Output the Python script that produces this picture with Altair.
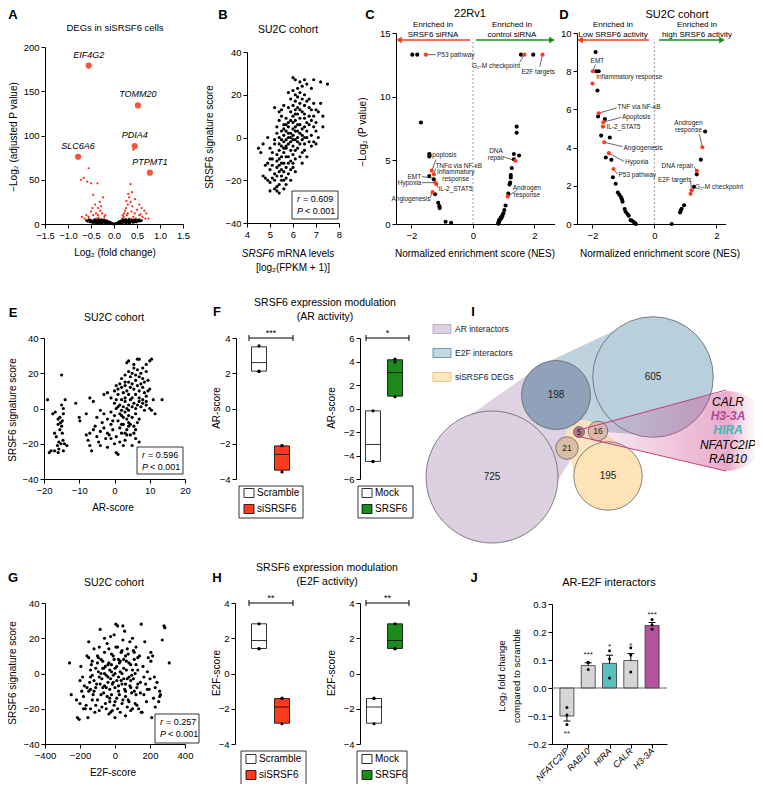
import math
import altair as alt
import pandas as pd

FONT = "Liberation Sans"
W, H, M = 747, 776, 8

# ---------------- DATA ----------------
# A: volcano
A_black = [(-0.48,3),(-0.45,4),(-0.42,5),(-0.4,2),(-0.38,4),(-0.36,3),(-0.34,5),(-0.32,2),(-0.3,4),(-0.28,3),
           (-0.27,5),(-0.25,2),(-0.24,4),(-0.22,3),(-0.2,2),(-0.19,4),(-0.18,1),(-0.16,3),(-0.15,2),(-0.14,1),
           (-0.12,2),(-0.11,1),(-0.1,1.5),(-0.08,1),(-0.07,0.5),(-0.06,1),(-0.05,0.5),(-0.04,0.3),(-0.03,0.2),
           (-0.02,0.1),(-0.01,0.05),(0.0,0.0),(0.01,0.05),(0.02,0.1),(0.03,0.2),(0.04,0.4),(0.05,0.6),(0.06,0.8),
           (0.07,0.5),(0.08,1),(0.09,1.2),(0.1,1.5),(0.11,1),(0.12,2),(0.13,1.5),(0.14,2.5),(0.15,2),(0.16,1),
           (0.17,3),(0.18,2),(0.19,3.5),(0.2,2.5),(0.21,4),(0.22,3),(0.23,2),(0.24,4.5),(0.25,3),(0.26,5),
           (0.27,3.5),(0.28,4),(0.3,2.5),(0.32,5),(0.34,3),(0.36,4),(0.38,5),(0.4,3),(0.42,4),(0.45,5),(0.48,3),
           (0.5,4),(0.52,3),(0.55,5),(-0.52,4),(-0.55,5),(-0.58,3),(-0.5,2),(-0.44,1.5),(-0.35,1),(-0.26,1),
           (-0.17,0.5),(0.17,0.6),(0.26,1.2),(0.35,1.5),(0.44,2),(-0.6,4),(0.6,4),(-0.13,2.5),(-0.09,1.8),
           (0.29,1.8),(0.33,2.2),(-0.29,1.6),(-0.23,3.5),(0.12,0.8),(-0.12,0.8),
           (-0.47,2.5),(-0.43,3.2),(-0.39,1.2),(-0.37,2.4),(-0.33,3.6),(-0.31,1.3),(-0.29,4.4),(-0.21,1.4),
           (-0.19,2.7),(-0.15,3.4),(-0.11,2.6),(-0.08,2.2),(-0.21,4.6),(-0.41,3.6),(-0.46,1.8),(-0.53,2.6),
           (0.09,2.1),(0.11,2.8),(0.15,3.3),(0.19,1.3),(0.22,4.2),(0.25,1.7),(0.28,2.6),(0.31,3.7),(0.33,1.2),
           (0.37,2.7),(0.39,4.3),(0.41,1.6),(0.43,3.4),(0.47,4.4),(0.49,2.1),(0.53,4.2),(0.57,3.2),(0.2,5.2)]
A_red = [(-0.55,63),(-0.66,52),(-0.72,50),(-0.58,48),(-0.5,46),(-0.36,46),(-0.45,33),(0.42,84),(0.31,34),
         (0.33,30),(0.36,45),(0.46,28),(0.55,22),(0.6,18),(0.66,15),(0.7,12),(0.5,16),(0.4,20),(0.36,25),
         (0.3,22),(0.26,18),(0.22,12),(0.28,10),(0.21,8),(0.18,6),(-0.21,8),(-0.26,12),(-0.3,15),(-0.35,18),
         (-0.41,22),(-0.5,14),(-0.6,10),(-0.45,10),(-0.55,8),(-0.31,25),(-0.28,20),(-0.33,7),(-0.7,8),
         (0.62,8),(0.55,10),(0.45,12),(0.38,14),(0.42,8),(0.48,6),(0.33,6),(0.3,12),(-0.22,5),(-0.38,6),
         (-0.42,4),(-0.5,5),(0.25,5),(0.35,4),(0.52,4),(0.16,4),(-0.16,4),(-0.27,4),(-0.24,30),(-0.39,12),
         (0.39,36),(0.27,26),(0.24,15),(0.58,11),(0.68,6),(-0.64,6),(-0.47,18),(-0.19,10),(0.19,10),
         (0.29,4),(-0.35,10),(0.75,6)]
A_genes = ["EIF4G2", "TOMM20", "PDIA4", "SLC6A6", "PTPMT1"]
A_gene_fc = [-0.55, 0.52, 0.45, -0.78, 0.78]
A_gene_p = [179, 134, 88, 76, 58]

# B: SRSF6 mRNA vs signature
B_points = [(5.0,-25),(5.2,-24),(5.3,-25),(5.4,-26),(5.3,-23),(4.9,-20),(5.0,-21),(5.1,-19),(5.2,-20),(5.4,-22),
            (5.5,-18),(5.6,-24),(5.6,-20),(5.2,-17),(5.0,-15),(5.1,-13),(5.3,-14),(5.4,-16),(5.5,-15),(5.3,-11),
            (5.4,-10),(5.6,-12),(5.7,-14),(5.8,-17),(5.7,-19),(4.7,-18),(4.8,-19),(4.8,-13),(4.9,-12),(5.0,-10),
            (4.5,-5),(4.6,-7),(4.7,-3),(4.9,0),(5.0,-5),(5.1,-7),(5.2,-3),(5.3,-8),(5.4,-6),(5.5,-4),(5.5,-9),
            (5.6,-7),(5.7,-5),(5.8,-9),(5.9,-11),(6.0,-8),(6.1,-10),(6.2,-5),(6.3,-9),(6.0,-14),(6.1,-16),
            (5.9,-20),(6.4,-7),(6.6,-9),(6.5,-6),(5.3,2),(5.4,0),(5.5,3),(5.6,1),(5.7,-1),(5.7,3),(5.8,0),
            (5.8,5),(5.9,2),(5.9,-2),(6.0,1),(6.0,4),(6.1,-1),(6.1,3),(6.2,0),(6.2,6),(6.3,2),(6.3,-3),(6.4,4),
            (6.5,0),(6.6,3),(6.7,-2),(6.8,1),(5.6,6),(5.4,8),(5.5,10),(5.7,9),(5.8,7),(5.9,12),(6.0,10),(6.1,8),
            (6.2,11),(6.3,9),(6.4,12),(6.5,9),(6.6,7),(6.7,10),(6.8,8),(6.9,5),(7.0,3),(7.1,0),(7.3,5),(7.0,-3),
            (6.9,-2),(5.2,14),(5.5,13),(5.6,15),(5.8,14),(6.0,15),(6.1,13),(6.3,16),(6.4,18),(6.2,19),(6.5,15),
            (6.6,17),(6.7,14),(6.9,16),(7.0,13),(7.2,16),(5.8,21),(6.0,22),(6.1,20),(6.2,23),(6.3,21),(6.5,20),
            (6.4,24),(6.8,23),(6.0,28),(6.1,27),(6.3,26),(6.6,25),(6.9,27),(7.2,26),(7.5,25),(6.5,27),(5.6,-2),
            (5.7,-4),(5.8,-3),(5.9,-6),(6.0,-4),(6.1,-6),(5.5,-1),(5.6,4),(5.7,6),(5.8,-12),(6.0,-12),(5.9,-15),
            (5.6,-16),(5.5,-12),(5.7,-9),(5.9,0),(6.1,5),(6.3,6),(6.2,-2),(6.4,1),(6.5,-3),(6.6,0),(6.2,14),
            (6.1,17),(5.9,18),(6.0,-1),(5.8,2),(5.6,-5),(5.4,-3),(5.2,-1),(5.1,-10),(5.3,-18),(5.5,-20),
            (5.7,-22),(5.4,-13),(6.4,-12),(6.5,11),(6.7,18),(6.9,10),(7.1,12),(7.3,10),(7.0,7),(6.8,13),(6.3,13),
            (6.1,11),(5.9,8),(6.0,7),(6.2,3),(6.4,-1),(6.8,-4),(6.5,5),(6.7,6),(5.3,5),(5.4,12)]

# C: 22Rv1 GSEA
C_black = [(-1.97,13.3),(-1.81,13.3),(-1.69,7.97),(-1.42,5.5),(-1.42,5.3),(-1.42,3.77),(-1.27,3.5),
           (-1.23,2.34),(-1.13,1.66),(-1.09,1.4),(-1.08,1.25),(-0.89,0.18),(-0.71,0.1),
           (1.56,13.3),(1.96,13.3),(1.42,7.65),(1.42,7.17),(1.33,5.5),(1.5,5.38),(1.33,5.08),(1.26,4.4),
           (1.23,3.85),(1.23,3.66),(1.21,3.25),(1.19,3.1),(1.15,2.4),(1.06,1.45),(0.99,0.84),(0.95,0.6),
           (0.92,0.45),(0.88,0.35),(0.86,0.25),(0.84,0.15),(0.82,0.08),(0.83,0.02),(0.85,0.3),(0.9,0.5),
           (1.02,1.1),(0.96,0.7)]
C_red = [(-1.53,13.3),(-1.34,4.19),(-1.27,3.9),(-1.23,3.25),(-1.19,3.14),(-1.31,2.5),
         (1.67,13.3),(2.26,13.3),(1.38,4.97),(1.13,2.15)]

# D: SU2C GSEA
D_black = [(-1.9,9.0),(-1.88,8.0),(-1.8,8.0),(-1.84,6.99),(-1.82,5.63),(-1.6,5.5),(-1.72,4.63),(-1.44,4.53),
           (-1.57,3.48),(-1.39,3.36),(-1.34,2.45),(-1.25,2.11),(-1.18,1.65),(-1.13,1.53),(-1.08,1.41),
           (-1.05,1.3),(-1.03,1.17),(-0.96,0.78),(-0.93,0.64),(-0.87,0.52),(-0.83,0.43),(-0.77,0.2),
           (-0.72,0.17),(-0.67,0.1),(-0.63,0.05),(-0.6,0.0),
           (1.64,4.84),(1.5,3.37),(1.37,2.6),(1.28,1.95),(0.96,0.98),(0.88,0.8),(0.85,0.7),(0.83,0.6),(0.56,0.0)]
D_red = [(-1.99,8.0),(-2.0,7.35),(-1.8,5.8),(-1.65,5.33),(-1.66,5.1),(-1.62,4.28),(-1.47,3.71),(-1.32,2.88),
         (1.55,4.02),(1.37,2.78),(1.2,1.77),(1.17,1.58)]

# E / G scatter
E_points = [(-19,5),(-18,-24),(-17.5,-3),(-17,-14),(-16.5,-16),(-16,-25),(-15.5,-5),(-15,-10),(-15,19),
            (-14.8,-7),(-14.5,-3),(-14.6,-18),(-15.2,-20),(-15.8,-19),(-16.2,-21),(-14.2,-20),(-14,5),(-14.5,0),
            (-15,2),(-16,-9),(-16.8,-2),(-15.5,-12),(-14.8,-14),(-15.3,-8),(-16,-6),(-14.5,-24),(-17,-24),
            (-18.5,-25),(-13.5,-21),(-15.8,-23),(-11,3),(-10,-5),(-9.8,-7),(-8,-15),(-7.5,-18),(-7,-14),(-7,-21),
            (-6.5,-24),(-6,-12),(-5.5,-10),(-5,-16),(-4.5,-19),(-4,-13),(-3.5,-8),(-3,-11),(-2.5,-17),(-2,-22),
            (-1.5,-15),(-1,-9),(-0.5,-12),(0,-20),(0.5,-25),(1,-26),(1.5,-19),(2,-14),(2.5,-21),(3,-18),
            (3.5,-12),(4,-8),(4.5,-15),(5,-21),(6,-17),(7,-19),(-8,-3),(-7,6),(-6,4),(-5,-5),(-4,-1),(-3,-3),
            (-2,-6),(-1,-2),(0,-4),(0.5,0),(1,-7),(1.5,-3),(2,-9),(2.5,-5),(3,-2),(3.5,-6),(4,-4),(4.5,-9),
            (5,-5),(5.5,-10),(6,-3),(6.5,-8),(7,-6),(-3,8),(-2,9),(-1,6),(0,3),(0.5,5),(1,8),(1.5,2),(2,5),
            (2.5,1),(3,4),(3.5,0),(4,2),(4.5,5),(5,1),(5.5,3),(6,0),(6.5,2),(7,4),(7.5,1),(8,3),(8.5,-1),(9,2),
            (10,0),(10.5,-1),(0,10),(0.5,13),(1,11),(1.5,14),(2,12),(2.5,9),(3,13),(3.5,10),(4,15),(4.5,12),
            (5,14),(5.5,11),(6,16),(6.5,13),(7,10),(7.5,14),(8,12),(8.5,9),(9,7),(9.5,10),(10,11),(11,5),
            (11.5,-3),(13.5,5),(2,17),(3,19),(4,21),(4.5,18),(5,20),(5.5,23),(6,19),(6.5,22),(7,18),(7.5,20),
            (8,17),(8.5,15),(9,21),(3.5,26),(4,27),(5.5,25),(6.5,28),(7,28),(8,23),(9,25),(10,27),(10.5,28),
            (9.5,16),(3,15),(-0.5,-7),(1.5,-11),(2.5,-9),(3.5,-15),(5.5,-14),(4,-1),(2,-1),(1,1),(3,6),(4,8),
            (5,6),(6,8),(7,6),(8,5),(9,4),(2,-4),(4,-10),(6,-12),(3,-14),(-1,-17),(-4,-21),(-2,-14),(0.5,-16)]
G_points = [(-260,6),(-250,-12),(-220,-15),(-215,-25),(-205,-26),(-200,-4),(-195,4),(-190,-10),(-185,-2),
            (-180,-13),(-175,-7),(-170,-20),(-165,-18),(-160,10),(-155,-25),(-150,18),(-145,-5),(-140,-9),
            (-135,5),(-130,-1),(-125,-12),(-120,14),(-115,-22),(-110,3),(-105,-6),(-100,-15),(-95,9),(-90,-21),
            (-85,25),(-80,0),(-75,-3),(-70,7),(-65,-11),(-60,12),(-55,4),(-50,-8),(-45,17),(-40,-2),(-35,6),
            (-30,-14),(-25,21),(-20,1),(-15,-6),(-10,10),(-5,-18),(0,3),(5,28),(10,-4),(15,15),(20,-10),(25,6),
            (30,-22),(35,12),(40,0),(45,-15),(50,8),(55,24),(60,-6),(65,2),(70,-19),(75,11),(80,-2),(85,18),
            (90,5),(95,-11),(100,20),(105,-3),(110,8),(115,-17),(120,15),(125,-8),(130,2),(135,-20),(140,10),
            (145,-5),(150,28),(155,-22),(160,4),(165,-12),(170,18),(175,-6),(180,-16),(185,1),(190,9),(195,-9),
            (200,-3),(205,7),(210,-25),(215,10),(220,-14),(225,-2),(230,-19),(240,-5),(250,-16),(255,-10),
            (260,-12),(270,19),(280,27),(285,26),(310,6),(-150,-10),(-140,2),(-130,-15),(-120,-4),(-110,-8),
            (-100,6),(-90,-2),(-80,-12),(-70,3),(-60,-7),(-50,-1),(-40,5),(-30,-9),(-20,11),(-10,-5),(0,0),
            (10,4),(20,-2),(30,7),(40,-6),(50,3),(60,10),(70,-3),(80,6),(90,-8),(100,2),(110,-10),(120,5),
            (130,-6),(-100,10),(-80,8),(-60,0),(-40,-5),(-20,-12),(0,-8),(20,8),(40,13),(60,-10),(80,-16),
            (100,-20),(120,-12),(-120,-10),(-90,15),(-70,-8),(-50,-20),(-30,2),(-10,-1),(10,-14),(30,1),(50,-3),
            (70,14),(90,-4),(110,12),(130,9),(-60,20),(-20,5),(0,-16),(20,-7),(40,-17),(60,-13),(-140,-2),
            (-110,-18),(-180,-20),(-160,-8),(-30,-16),(-5,8),(15,-20),(35,-4),(55,-9),(75,-15),(95,-1),(115,0),
            (-85,-6),(-65,3),(-45,-13),(-25,-3),(-15,-21),(5,15),(25,-12),(45,19),(65,7),(85,-7),(105,13),
            (125,-18),(145,-11),(165,-2),(185,-9),(205,12),(230,-8),(255,-13),(-95,1),(-75,-19),(-55,-17),
            (-35,14),(-5,22),(15,27),(45,27),(-35,-23),(-25,-22),(-140,-20),(0,-25),(60,-24),(150,-22),(-150,9),
            (-130,7),(90,-21),(-200,-17)]

# F / H: box plots (points, min, median, max)
F1_groups = ["Scramble", "siSRSF6"]; F1_pts = [[3.55, 2.1, 2.12], [-2.1, -2.12, -3.6]]
F1_lo = [2.12, -3.5]; F1_mid = [2.6, -2.6]; F1_hi = [3.5, -2.12]
F2_groups = ["Mock", "SRSF6"]; F2_pts = [[-0.2, -4.5, -4.52], [4.2, 3.95, 1.0]]
F2_lo = [-4.5, 1.05]; F2_mid = [-3.05, 3.05]; F2_hi = [-0.2, 4.15]
H1_groups = ["Scramble", "siSRSF6"]; H1_pts = [[2.82, 1.4, 1.42], [-1.4, -1.42, -2.85]]
H1_lo = [1.42, -2.82]; H1_mid = [1.87, -1.9]; H1_hi = [2.82, -1.42]
H2_groups = ["Mock", "SRSF6"]; H2_pts = [[-1.4, -1.42, -2.85], [2.82, 1.4, 1.42]]
H2_lo = [-2.82, 1.42]; H2_mid = [-1.9, 1.87]; H2_hi = [-1.42, 2.82]

# I: Venn counts
I_sets = ["AR only", "AR & E2F", "E2F only", "DEG only", "AR & DEG", "all three", "E2F & DEG"]
I_counts = [725, 198, 605, 195, 21, 5, 16]
I_genes = ["CALR", "H3-3A", "HIRA", "NFATC2IP", "RAB10"]

# J: bar chart
J_genes = ["NFATC2IP", "RAB10", "HIRA", "CALR", "H3-3A"]
J_mean = [-0.100, 0.080, 0.088, 0.098, 0.223]
J_err = [-0.118, 0.090, 0.117, 0.123, 0.234]
J_pts = [[-0.07, -0.096, -0.13], [0.092, 0.09, 0.066], [0.133, 0.104, 0.036], [0.144, 0.118, 0.057], [0.245, 0.225, 0.21]]
J_stars = ["**", "***", "*", "*", "***"]

# ---------------- helpers ----------------
RED = "#ff3b1f"
GREEN = "#1b8c1b"


def px(v):
    return v - M


def py(v):
    return v - M


def xsc(domain, left, right):
    return alt.Scale(domain=domain, range=[px(left), px(right)], nice=False, zero=False)


def ysc(domain, bottom, top):
    return alt.Scale(domain=domain, range=[py(bottom), py(top)], nice=False, zero=False)


def xax(at_y, values, **kw):
    return alt.Axis(orient="bottom", offset=py(at_y) - H, values=values, title=None, **kw)


def yax(at_x, values, **kw):
    return alt.Axis(orient="left", offset=-px(at_x), values=values, title=None, **kw)


ONE = pd.DataFrame({"k": [0]})


def txt(text, x, y, size=9, weight="normal", style="normal", align="center", angle=0, color="black",
        baseline="middle", lh=None):
    kw = dict(text=text, font=FONT, fontSize=size, fontWeight=weight, fontStyle=style, align=align,
              baseline=baseline, angle=angle, color=color, lineBreak="\n")
    if lh:
        kw["lineHeight"] = lh
    return alt.Chart(ONE).mark_text(**kw).encode(x=alt.value(px(x)), y=alt.value(py(y)))


def rect(x1, y1, x2, y2, fill="white", stroke="black", sw=0.8):
    return alt.Chart(ONE).mark_rect(fill=fill, stroke=stroke, strokeWidth=sw).encode(
        x=alt.value(px(x1)), x2=alt.value(px(x2)), y=alt.value(py(y1)), y2=alt.value(py(y2)))


def seg(x1, y1, x2, y2, color="black", sw=1.0):
    return alt.Chart(ONE).mark_rule(color=color, strokeWidth=sw).encode(
        x=alt.value(px(x1)), x2=alt.value(px(x2)), y=alt.value(py(y1)), y2=alt.value(py(y2)))


def arrowhead(x, y, shape, color):
    return alt.Chart(ONE).mark_point(shape=shape, filled=True, size=45, color=color, opacity=1).encode(
        x=alt.value(px(x)), y=alt.value(py(y)))


def stat(x1, y1, x2, y2, rv):
    return [rect(x1, y1, x2, y2),
            txt("r", x1 + 5, y1 + 8, size=9, style="italic", align="left"),
            txt("= " + rv, x1 + 11, y1 + 8, size=9, align="left"),
            txt("P", x1 + 5, y1 + 20, size=9, style="italic", align="left"),
            txt("< 0.001", x1 + 13, y1 + 20, size=9, align="left")]


def scatter(points, xdom, xl, xr, ydom, yb, yt, xticks, yticks):
    df = pd.DataFrame(points, columns=["x", "y"])
    return [alt.Chart(df).mark_circle(size=10, color="black", opacity=1).encode(
        x=alt.X("x:Q", scale=xsc(xdom, xl, xr), axis=xax(yb, xticks)),
        y=alt.Y("y:Q", scale=ysc(ydom, yb, yt), axis=yax(xl, yticks)))]


def box_panel(groups, pts, lo, mid, hi, fills, ax_x, cx, ydom, yticks, yb, yt):
    def xs_():
        return alt.Scale(domain=groups, type="point", range=[px(cx[0]), px(cx[1])], padding=0)
    ys_ = ysc(ydom, yb, yt)
    dfb = pd.DataFrame({"g": groups, "lo": lo, "mid": mid, "hi": hi, "f": fills})
    dfp = pd.DataFrame([(g, v) for g, vals in zip(groups, pts) for v in vals], columns=["g", "v"])
    bars = alt.Chart(dfb).mark_bar(size=15, stroke="black", strokeWidth=0.8).encode(
        x=alt.X("g:N", scale=xs_(), axis=None),
        y=alt.Y("lo:Q", scale=ys_, axis=yax(ax_x, yticks)),
        y2="hi:Q", fill=alt.Fill("f:N", scale=None))
    med = alt.Chart(dfb).mark_tick(size=15, thickness=0.8, color="black", opacity=1).encode(
        x=alt.X("g:N", scale=xs_(), axis=None), y=alt.Y("mid:Q", scale=ys_, axis=None))
    dots = alt.Chart(dfp).mark_circle(size=10, color="black", opacity=1).encode(
        x=alt.X("g:N", scale=xs_(), axis=None), y=alt.Y("v:Q", scale=ys_, axis=None))
    return [bars, med, dots]


def bracket(x1, x2, y, star, ystar):
    return [seg(x1, y, x2, y), seg(x1, y - 3, x1, y + 3), seg(x2, y - 3, x2, y + 3),
            txt(star, (x1 + x2) / 2, ystar, size=9)]


def legend(x1, y1, x2, y2, names, fills, sx, tx, ys):
    out = [rect(x1, y1, x2, y2)]
    for n, f, yy in zip(names, fills, ys):
        out.append(rect(sx, yy - 4.5, sx + 10, yy + 4.5, fill=f, stroke="black", sw=0.8))
        out.append(txt(n, tx, yy, size=10, align="left"))
    return out


def enrich(black, red, labels, lines, xdom, xl, xr, ydom, yb, yt, xticks, yticks, ytop_line):
    xs_ = xsc(xdom, xl, xr)
    ys_ = ysc(ydom, yb, yt)
    dfb = pd.DataFrame(black, columns=["x", "y"])
    dfr = pd.DataFrame(red, columns=["x", "y"])
    dfl = pd.DataFrame(labels, columns=["t", "x", "y", "al"])
    dfs = pd.DataFrame(lines, columns=["x", "y", "x2", "y2"])
    L = [alt.Chart(dfb).mark_circle(size=17, color="black", opacity=1).encode(
        x=alt.X("x:Q", scale=xs_, axis=xax(yb, xticks)), y=alt.Y("y:Q", scale=ys_, axis=yax(xl, yticks)))]
    L.append(alt.Chart(ONE).mark_rule(color="#888888", strokeDash=[2, 2], strokeWidth=0.8).encode(
        x=alt.XDatum(0, scale=xs_, axis=None), y=alt.YDatum(ydom[0], scale=ys_, axis=None),
        y2=alt.Y2Datum(ytop_line)))
    L.append(alt.Chart(dfs).mark_rule(color="black", strokeWidth=0.6).encode(
        x=alt.X("x:Q", scale=xs_, axis=None), y=alt.Y("y:Q", scale=ys_, axis=None), x2="x2:Q", y2="y2:Q"))
    L.append(alt.Chart(dfr).mark_circle(size=17, color=RED, opacity=1).encode(
        x=alt.X("x:Q", scale=xs_, axis=None), y=alt.Y("y:Q", scale=ys_, axis=None)))
    for al in ["left", "center", "right"]:
        L.append(alt.Chart(dfl).transform_filter(alt.datum.al == al).mark_text(
            font=FONT, fontSize=6.5, align=al, baseline="middle", color="#222222", lineBreak="\n",
            lineHeight=7).encode(
            x=alt.X("x:Q", scale=xs_, axis=None), y=alt.Y("y:Q", scale=ys_, axis=None), text="t:N"))
    return L


layers = []

# ---------------- Panel A ----------------
xA = xsc([-1.5, 1.5], 45, 183)
yA = ysc([0, 200], 224, 47)
dA_b = pd.DataFrame(A_black, columns=["fc", "p"])
dA_r = pd.DataFrame(A_red, columns=["fc", "p"])
dA_t = pd.DataFrame({"g": A_genes, "fc": A_gene_fc, "p": A_gene_p})
layers += [
    alt.Chart(dA_r).mark_circle(size=5, color="#ff2a10", opacity=1).encode(
        x=alt.X("fc:Q", scale=xA, axis=xax(224, [-1.5, -1, -0.5, 0, 0.5, 1, 1.5], format=".1f")),
        y=alt.Y("p:Q", scale=yA, axis=yax(45, [0, 50, 100, 150, 200]))),
    alt.Chart(dA_b).mark_circle(size=6, color="black", opacity=1).encode(
        x=alt.X("fc:Q", scale=xA, axis=None), y=alt.Y("p:Q", scale=yA, axis=None)),
    alt.Chart(dA_t).mark_circle(size=38, color="#f5553c", opacity=1).encode(
        x=alt.X("fc:Q", scale=xA, axis=None), y=alt.Y("p:Q", scale=yA, axis=None)),
    alt.Chart(dA_t).mark_text(dy=-11, font=FONT, fontSize=9, fontStyle="italic").encode(
        x=alt.X("fc:Q", scale=xA, axis=None), y=alt.Y("p:Q", scale=yA, axis=None), text="g:N"),
    txt("A", 13, 15, size=13, weight="bold"),
    txt("DEGs in siSRSF6 cells", 115, 28, size=9.5),
    txt("Log₂ (fold change)", 115, 253, size=10),
    txt("−Log₂ (adjusted P value)", 14, 137, size=10, angle=270),
]

# ---------------- Panel B ----------------
layers += scatter(B_points, [4, 8], 247, 339, [-40, 40], 223, 52, [4, 5, 6, 7, 8], [-40, -20, 0, 20, 40])
layers += [txt("B", 223, 15, size=13, weight="bold"),
           txt("SU2C cohort", 288, 30, size=10.5),
           txt("SRSF6 signature score", 210, 137, size=10, angle=270),
           txt("SRSF6", 274, 254, size=10, style="italic", align="right"),
           txt("mRNA levels", 277, 254, size=10, align="left"),
           txt("[log₂(FPKM + 1)]", 293, 268, size=10)]
layers += stat(292, 191, 338, 219, "0.609")

# ---------------- Panel C ----------------
C_labels = [("P53 pathway", -1.17, 13.3, "left"), ("G₂-M checkpoint", 0.75, 12.4, "center"),
            ("E2F targets", 2.12, 11.95, "center"), ("DNA\nrepair", 0.75, 5.7, "center"),
            ("Androgen\nresponse", 1.75, 2.8, "center"), ("Apoptosis", -1.0, 5.4, "center"),
            ("TNFα via NF-κB", -1.22, 4.55, "left"), ("Inflammatory\nresponse", -0.56, 4.05, "center"),
            ("IL-2_STAT5", -1.12, 2.72, "left"), ("EMT", -1.68, 3.72, "right"), ("Hypoxia", -1.68, 3.25, "right"),
            ("Angiogenesis", -1.38, 1.94, "right")]
C_lines = [(-1.53, 13.3, -1.2, 13.3), (1.67, 13.3, 1.52, 12.7), (2.26, 13.3, 2.17, 12.35), (1.38, 4.97, 1.02, 5.25),
           (1.13, 2.15, 1.42, 2.65), (-1.34, 4.19, -1.2, 5.05), (-1.27, 3.9, -1.22, 4.35), (-1.66, 3.72, -1.3, 3.6),
           (-1.66, 3.25, -1.25, 3.25), (-1.19, 3.14, -1.14, 2.85), (-1.31, 2.5, -1.4, 2.05)]
layers += enrich(C_black, C_red, C_labels, C_lines, [-2.5, 2.65], 396, 554.5, [0, 15], 224, 33, [-2, 0, 2],
                 [0, 5, 10, 15], 14.5)
layers += [txt("C", 370, 15, size=13, weight="bold"),
           txt("22Rv1", 470, 14, size=11),
           txt("Enriched in\nSRSF6 siRNA", 433, 25, size=8, lh=10),
           txt("Enriched in\ncontrol siRNA", 512, 25, size=8, lh=10),
           seg(470, 40, 400, 40, color=RED, sw=1.5), arrowhead(399, 40, "triangle-left", RED),
           seg(476, 40, 551, 40, color=GREEN, sw=1.5), arrowhead(552, 40, "triangle-right", GREEN),
           txt("Normalized enrichment score (NES)", 475, 254, size=10),
           txt("−Log₂ (P value)", 363, 132, size=10, angle=270)]

# ---------------- Panel D ----------------
D_labels = [("EMT", -1.84, 8.55, "center"), ("Androgen\nresponse", 1.1, 5.31, "center"),
            ("Inflammatory response", -1.88, 7.68, "left"), ("TNF via NF-κB", -1.19, 6.1, "left"),
            ("Apoptosis", -1.05, 5.6, "left"), ("IL-2_STAT5", -1.55, 5.1, "left"),
            ("Angiogenesis", -1.0, 4.0, "left"), ("Hypoxia", -0.95, 3.25, "left"), ("P53 pathway", -1.16, 2.54, "left"),
            ("G₂-M checkpoint", 1.31, 1.96, "left"), ("DNA repair", 1.26, 3.06, "right"),
            ("E2F targets", 1.2, 2.31, "right")]
D_lines = [(-1.99, 8.0, -1.9, 8.35), (-1.8, 5.8, -1.22, 6.08), (-1.65, 5.33, -1.08, 5.58), (-1.62, 4.28, -1.03, 4.05),
           (-1.47, 3.71, -0.98, 3.27), (-1.32, 2.88, -1.19, 2.6), (1.55, 4.02, 1.45, 4.7), (1.37, 2.78, 1.28, 3.0),
           (1.2, 1.77, 1.17, 2.2), (1.17, 1.58, 1.29, 1.9)]
layers += enrich(D_black, D_red, D_labels, D_lines, [-2.5, 2.3], 577, 725.6, [0, 10], 224, 33, [-2, 0, 2],
                 [0, 2, 4, 6, 8, 10], 9.65)
layers += [txt("D", 564, 15, size=13, weight="bold"),
           txt("SU2C cohort", 677, 14.5, size=11),
           txt("Enriched in\nLow SRSF6 activity", 613, 25, size=8, lh=10),
           txt("Enriched in\nhigh SRSF6 activity", 697, 25, size=8, lh=10),
           seg(649, 40, 582, 40, color=RED, sw=1.5), arrowhead(580, 40, "triangle-left", RED),
           seg(659, 40, 720, 40, color=GREEN, sw=1.5), arrowhead(722, 40, "triangle-right", GREEN),
           txt("Normalized enrichment score (NES)", 660, 254, size=10)]

# ---------------- Panel E ----------------
layers += scatter(E_points, [-20, 20], 44, 185, [-40, 40], 479, 338, [-20, -10, 0, 10, 20], [-40, -20, 0, 20, 40])
layers += [txt("E", 13, 313, size=13, weight="bold"),
           txt("SU2C cohort", 114, 318, size=10.5),
           txt("SRSF6 signature score", 13, 410, size=10, angle=270),
           txt("AR-score", 113, 508, size=10)]
layers += stat(137, 447, 183, 474, "0.596")

# ---------------- Panel F ----------------
layers += box_panel(F1_groups, F1_pts, F1_lo, F1_mid, F1_hi, ["white", RED], 236, [259, 282], [-4, 4],
                    [-4, -2, 0, 2, 4], 479, 338)
layers += box_panel(F2_groups, F2_pts, F2_lo, F2_mid, F2_hi, ["white", GREEN], 360, [373, 395], [-6, 6],
                    [-6, -4, -2, 0, 2, 4, 6], 479, 338)
layers += [txt("F", 217, 312, size=13, weight="bold"),
           txt("SRSF6 expression modulation\n(AR activity)", 325, 303, size=10.5, lh=14),
           txt("AR-score", 217, 408, size=10, angle=270),
           txt("AR-score", 332, 408, size=10, angle=270)]
layers += bracket(249, 293, 338, "***", 333)
layers += bracket(366, 409, 338, "*", 333)
layers += legend(239, 486, 303, 518, ["Scramble", "siSRSF6"], ["white", RED], 244, 257, [493, 509])
layers += legend(358, 486, 413, 518, ["Mock", "SRSF6"], ["white", GREEN], 362, 375, [493, 509])

# ---------------- Panel G ----------------
layers += scatter(G_points, [-400, 400], 45, 185, [-40, 40], 744, 603, [-400, -200, 0, 200, 400],
                  [-40, -20, 0, 20, 40])
layers += [txt("G", 13, 578, size=13, weight="bold"),
           txt("SU2C cohort", 114, 583, size=10.5),
           txt("SRSF6 signature score", 13, 673, size=10, angle=270),
           txt("E2F-score", 113, 773, size=10)]
layers += stat(155, 714, 199, 743, "0.257")

# ---------------- Panel H ----------------
layers += box_panel(H1_groups, H1_pts, H1_lo, H1_mid, H1_hi, ["white", RED], 235, [259, 282], [-4, 4],
                    [-4, -2, 0, 2, 4], 744, 603)
layers += box_panel(H2_groups, H2_pts, H2_lo, H2_mid, H2_hi, ["white", GREEN], 360, [374, 395], [-4, 4],
                    [-4, -2, 0, 2, 4], 744, 603)
layers += [txt("H", 217, 578, size=13, weight="bold"),
           txt("SRSF6 expression modulation\n(E2F activity)", 327, 568, size=10.5, lh=14),
           txt("E2F-score", 217, 673, size=10, angle=270),
           txt("E2F-score", 332, 673, size=10, angle=270)]
layers += bracket(249, 293, 603, "**", 598)
layers += bracket(366, 409, 603, "**", 598)
layers += legend(241, 751, 306, 785, ["Scramble", "siSRSF6"], ["white", RED], 246, 259, [759, 775])
layers += legend(357, 751, 407, 785, ["Mock", "SRSF6"], ["white", GREEN], 362, 375, [759, 775])

# ---------------- Panel I (Venn) ----------------
# layout (page units) of the diagram
V_x = [492, 556, 653, 608, 567, 579, 598]
V_y = [477, 395, 377, 476, 448, 432, 431]
V_fill = ["#dcd0e1", "#8d9db8", "#b9cfdc", "#fde3b6", "#d9bca2", "#b46c8c", "#dcb6a8"]
SMAX = 132.0 ** 2


def xI():
    return alt.Scale(domain=[410, 763], range=[px(410), px(763)], nice=False, zero=False)


def yI():
    return alt.Scale(domain=[260, 560], range=[py(260), py(560)], nice=False, zero=False)


def diam(n):
    return math.sqrt(n / 725.0 * SMAX)


def trail(xs_, ys_, ws, color, opacity=1.0):
    d = pd.DataFrame({"x": xs_, "y": ys_, "w": ws, "o": list(range(len(xs_)))})
    return alt.Chart(d).mark_trail(color=color, opacity=opacity).encode(
        x=alt.X("x:Q", scale=xI(), axis=None), y=alt.Y("y:Q", scale=yI(), axis=None),
        size=alt.Size("w:Q", scale=None), order="o:Q")


dV = pd.DataFrame({"s": I_sets, "n": I_counts, "x": V_x, "y": V_y, "f": V_fill})
big = dV[dV["n"] > 100]
small = dV[dV["n"] <= 100]
grad = alt.LinearGradient(gradient="linear", x1=0, x2=1, y1=0, y2=0,
                          stops=[alt.GradientStop(color="rgba(205,70,140,0.05)", offset=0),
                                 alt.GradientStop(color="rgba(205,70,140,0.45)", offset=0.8),
                                 alt.GradientStop(color="rgba(255,255,255,0)", offset=1)])


def circles(d, size_lbl):
    c = alt.Chart(d).mark_circle(opacity=0.92, stroke="#4a4a4a", strokeWidth=0.7).encode(
        x=alt.X("x:Q", scale=xI(), axis=None), y=alt.Y("y:Q", scale=yI(), axis=None),
        size=alt.Size("n:Q", scale=alt.Scale(domain=[0, 725], range=[0, SMAX]), legend=None),
        fill=alt.Fill("f:N", scale=None))
    t = alt.Chart(d).mark_text(font=FONT, fontSize=size_lbl, color="#222222").encode(
        x=alt.X("x:Q", scale=xI(), axis=None), y=alt.Y("y:Q", scale=yI(), axis=None), text="n:Q")
    return [c, t]


layers += [trail([492, 556], [477, 395], [diam(725), diam(198)], "#dcd0e1", 0.95),
           trail([500, 567], [485, 448], [diam(725) * 0.8, 22], "#dcd0e1", 0.95),
           trail([556, 653], [395, 377], [diam(198), diam(605)], "#bcd1dd", 0.95),
           trail([583, 608], [438, 476], [36, diam(195)], "#fde4bc", 0.95)]
layers += circles(big, 10)
layers += [trail([579, 727], [432, 431], [8, 80], grad, 1.0)]
layers += circles(small, 8.5)
layers += [seg(583, 429, 726, 390, color="#c23d7c", sw=1),
           seg(577, 436, 726, 471, color="#c23d7c", sw=1),
           txt("I", 473, 312, size=13, weight="bold")]
I_colors = ["black", "#b1489b", "#3fb7b5", "black", "black"]
I_weights = ["normal", "bold", "bold", "normal", "normal"]
for g, c, wgt, yy in zip(I_genes, I_colors, I_weights, [402, 416, 430, 445, 459]):
    layers.append(txt(g, 728, yy, size=12, style="italic", weight=wgt, color=c))
for name, f, s, yy in zip(["AR interactors", "E2F interactors", "siSRSF6 DEGs"],
                          ["#ddd1e3", "#c6d8e4", "#fde6c4"], ["#b8a6c0", "#5d8fb5", "#f0c070"],
                          [329, 353, 377]):
    layers.append(rect(433, yy - 4.5, 451, yy + 4.5, fill=f, stroke=s, sw=0.9))
    layers.append(txt(name, 455, yy, size=8.5, align="left", color="#222222"))

# ---------------- Panel J ----------------
def xJ():
    return alt.Scale(domain=J_genes, type="point", range=[px(552), px(667)], padding=0.7)


yJ = ysc([-0.2, 0.3], 744, 604)
J_fill = ["#d6d6d6", "#d6d6d6", "#5cbfbf", "#d6d6d6", "#b4529f"]
dJ = pd.DataFrame({"g": J_genes, "m": J_mean, "e": J_err, "b": [0] * 5, "f": J_fill, "s": J_stars})
dJ["sy"] = [v - 0.045 if v < 0 else v + 0.028 for v in J_err]
dJp = pd.DataFrame([(g, v) for g, vals in zip(J_genes, J_pts) for v in vals], columns=["g", "v"])
jx_axis = alt.Axis(orient="bottom", offset=py(744) - H, title=None, labelAngle=315, labelFontStyle="italic",
                   labelAlign="right", labelBaseline="middle", labelFontSize=9, labelPadding=1)
layers += [
    alt.Chart(dJ).mark_bar(size=14, stroke="#333333", strokeWidth=0.8).encode(
        x=alt.X("g:N", scale=xJ(), axis=jx_axis),
        y=alt.Y("m:Q", scale=yJ, axis=yax(552, [-0.2, -0.1, 0, 0.1, 0.2, 0.3], format=".1f")),
        y2="b:Q", fill=alt.Fill("f:N", scale=None)),
    alt.Chart(ONE).mark_rule(color="#666666", strokeWidth=1).encode(
        y=alt.YDatum(0, scale=yJ, axis=None), x=alt.value(px(552)), x2=alt.value(px(667))),
    alt.Chart(dJ).mark_rule(color="black", strokeWidth=1).encode(
        x=alt.X("g:N", scale=xJ(), axis=None), y=alt.Y("m:Q", scale=yJ, axis=None), y2="e:Q"),
    alt.Chart(dJ).mark_tick(size=7, thickness=1, color="black", opacity=1).encode(
        x=alt.X("g:N", scale=xJ(), axis=None), y=alt.Y("e:Q", scale=yJ, axis=None)),
    alt.Chart(dJp).mark_circle(size=9, color="black", opacity=1).encode(
        x=alt.X("g:N", scale=xJ(), axis=None), y=alt.Y("v:Q", scale=yJ, axis=None)),
    alt.Chart(dJ).mark_text(font=FONT, fontSize=8, color="#222222").encode(
        x=alt.X("g:N", scale=xJ(), axis=None), y=alt.Y("sy:Q", scale=yJ, axis=None), text="s:N"),
    txt("J", 474, 578, size=13, weight="bold"),
    txt("AR-E2F interactors", 609, 583, size=11),
    txt("Log₂ fold change", 502, 676, size=9.5, angle=270),
    txt("compared to scramble", 517, 676, size=9.5, angle=270),
]

chart = alt.layer(*layers).resolve_scale(
    x="independent", y="independent", size="independent"
).properties(
    width=W, height=H, padding=0, autosize=alt.AutoSizeParams(type="none")
).configure_view(stroke=None).configure_axis(
    labelFont=FONT, labelFontSize=9.5, labelColor="black", domainColor="black", tickColor="black",
    tickSize=4, domainWidth=1, tickWidth=1, labelFlush=False, labelOverlap=False, grid=False, labelPadding=2
)

chart.save("out.html", embed_options={"renderer": "svg", "actions": False})
